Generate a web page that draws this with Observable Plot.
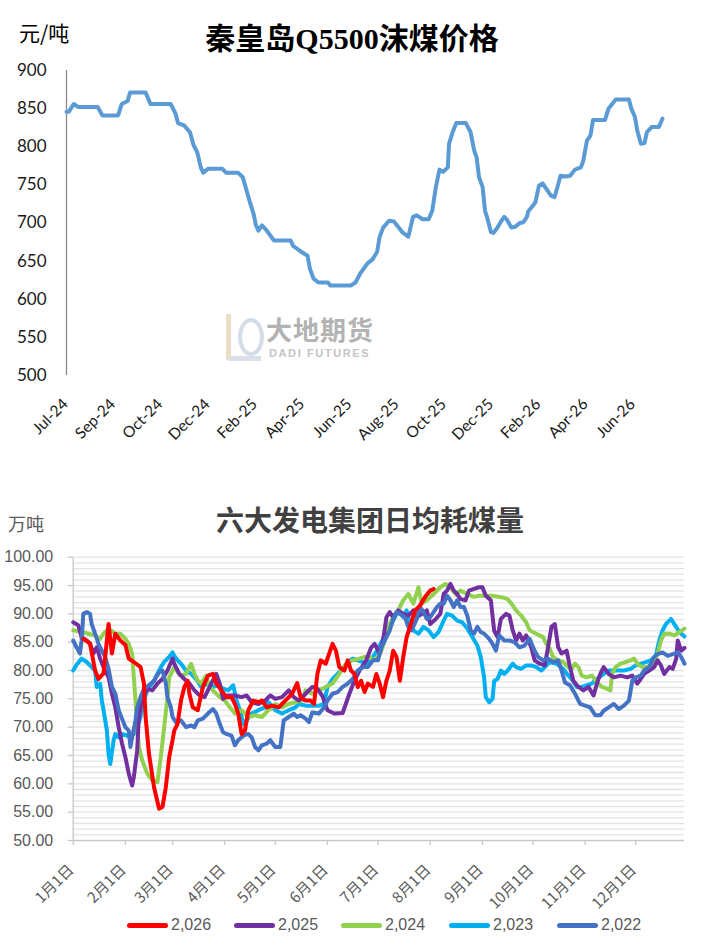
<!DOCTYPE html>
<html><head><meta charset="utf-8">
<script src="https://cdn.jsdelivr.net/npm/d3@7"></script>
<script src="https://cdn.jsdelivr.net/npm/@observablehq/plot@0.6"></script>
<style>
body{margin:0;background:#fff;}
#wrap{position:relative;width:709px;height:945px;overflow:hidden;font-family:"Noto Sans CJK SC",sans-serif;background:#fff;}
.abs{position:absolute;white-space:nowrap;line-height:1;}
#wrap svg{position:absolute;left:0;}
</style></head><body><div id="wrap"></div>
<script>
// ---------- Top chart data: 秦皇岛Q5500沫煤价格 ----------
const priceIdx = [0,2,6,10,26,30,43,46,51,53,66,70,87,91,93,98,103,106,109,112,114,118,130,133,143,147,149,153,156,158,160,163,167,173,187,189,195,201,203,206,210,218,220,237,241,245,251,255,259,261,264,269,273,277,280,285,289,292,297,302,305,308,311,314,318,319,322,325,333,337,340,342,344,347,349,351,354,356,359,362,365,367,371,374,378,381,384,385,391,394,397,400,404,407,409,412,416,420,424,429,431,434,437,439,449,452,458,469,471,474,476,479,482,484,488,494,497];
const priceVal = [846,846,856,852,852,841,841,856,860,871,871,856,856,843,831,828,819,802,793,773,766,771,771,766,766,760,749,727,712,697,690,697,690,677,677,670,663,657,640,627,622,622,618,618,622,634,647,652,662,681,694,703,702,694,688,682,708,710,705,705,716,747,770,767,773,804,819,831,831,819,795,786,760,747,716,706,688,687,693,701,708,705,694,695,700,701,708,715,727,749,752,745,736,734,745,762,761,762,770,773,782,808,815,835,835,850,862,862,850,839,821,804,805,819,826,826,837];
const topYTicks = [500,550,600,650,700,750,800,850,900];
const topXLabels = ["Jul-24","Sep-24","Oct-24","Dec-24","Feb-25","Apr-25","Jun-25","Aug-25","Oct-25","Dec-25","Feb-26","Apr-26","Jun-26"];

// ---------- Bottom chart data: 六大发电集团日均耗煤量 (day of year) ----------
const years = ["2,026","2,025","2,024","2,023","2,022"];
const colors = ["#FF0000","#7030A0","#92D050","#00B0F0","#4472C4"];
const days2026 = [6,10,13,15,18,21,23,25,28,31,33,36,40,42,43,45,48,51,53,55,57,59,60,62,64,66,68,69,71,74,77,80,83,85,88,91,94,96,98,100,102,104,107,110,112,115,118,122,126,130,133,135,138,141,143,145,147,150,152,154,156,158,161,163,165,167,169,171,173,175,178,180,182,184,186,188,190,192,194,196,198,200,203,206,209,212,214];
const vals2026 = [85.6,84.8,80,78.5,79.5,88.2,83,86.5,85.3,84.5,82.1,81.5,80.6,77.7,71.8,65.3,59.4,55.6,55.9,59.4,64.7,67.7,69.4,70.6,74.7,77.1,78.2,75.9,73.5,73,77.1,79.1,79.4,77.7,76.5,75.3,75.3,74.1,72.4,68.8,69.4,73,74.7,74.4,74.7,73.5,73.8,73.5,74.7,75.9,77.8,75.3,74.7,74.7,74.1,79.4,81.8,81.2,83,84.7,83.5,80.6,80,81.8,80,79.4,77.1,78.2,76.2,77.7,77.1,79.4,77.7,75.3,78.2,80,83.5,82.4,78.2,82.4,85.9,87.7,90.6,91.5,93,94.1,94.4];
const days2025 = [0,3,5,8,10,12,14,16,18,21,23,25,27,29,31,33,35,36,38,39,41,44,47,50,53,56,59,60,63,66,69,72,75,78,82,85,87,89,92,96,100,103,106,110,114,117,120,124,128,131,134,138,142,145,148,151,155,160,164,167,170,174,177,179,182,184,186,188,190,193,196,199,202,204,207,210,212,215,218,220,222,224,226,228,230,233,235,238,241,243,245,248,250,252,254,257,259,261,263,265,267,269,272,274,277,280,282,284,286,288,290,293,295,297,300,303,306,309,311,313,315,318,321,325,329,332,335,337,339,342,345,347,349,351,354,356,358,359,361,363];
const vals2025 = [88.5,88,85.9,85.3,84.7,83,84.1,82.1,80.6,78.8,75.9,73.5,70,67.1,64.7,61.8,59.7,61.2,65.9,71.8,75.3,76.8,76.5,77.7,78.5,80,82.1,81.2,79.4,78.5,77.7,76.5,75.6,75.3,77.7,79.4,77.7,75,75.6,75.6,75.3,75.6,74.4,74.1,74.7,75.6,75,75.3,76.5,75.3,74.7,75.9,77.1,76.8,75.5,73,72.4,72.5,75.9,78.2,80,81.8,84.1,84.7,83,85.3,89.4,90.3,89.4,90.6,90,89.7,90.6,89.4,90,90.6,88.2,89,90,93.5,94.1,95.3,94.1,93.5,92.6,92.4,94.1,94.4,94.7,94.7,93.2,92.4,87,85.9,89.1,90,89.7,87.1,85.3,86.5,85.3,86.2,84.1,81.8,81.2,80.9,84.1,87.7,88.2,84.1,83,83.5,80.6,78.2,77.1,76.5,77.1,75.6,77.7,79.4,80.6,79.4,78.8,79.1,78.8,79.1,77.7,78.5,79.4,80,80.6,81.8,80.9,79.4,80.6,80.3,82,85.3,83.5,84];
const days2024 = [0,5,9,13,16,18,21,25,28,31,33,35,36,37,38,39,41,44,47,50,52,54,56,57,59,60,62,64,67,70,72,74,76,79,81,84,87,90,93,96,100,104,108,112,116,120,124,128,132,136,138,142,146,150,154,158,162,166,170,173,176,178,181,183,185,187,190,193,196,199,202,205,207,210,214,218,221,224,227,230,234,238,241,245,249,255,258,261,263,266,269,271,273,275,279,281,283,285,288,291,294,296,298,300,302,305,308,311,314,317,319,320,322,325,328,331,333,335,338,341,344,347,349,351,354,357,360,363];
const vals2024 = [87.1,86.8,86.5,86.2,85.6,86.5,87.4,86.5,86.5,85.6,84.7,83,78.8,74.7,70,66.5,64.1,61.8,60.6,60.3,64.7,70,75.3,78.8,80,80.6,79.7,79.1,79.4,81.2,79.4,78.2,77.7,79.1,77.1,76.2,75.3,74.7,73.5,72.4,73,71.8,72.1,71.8,73,74.1,73.5,74.1,74.4,74.7,76.5,75.9,76.5,77.1,77.7,79.4,81.2,81.8,82.1,82.4,82.4,81.8,82.4,83.5,85.3,87.7,89.4,90.6,92.4,93.5,91.8,94.7,91.8,92.4,93.5,94.7,95.3,94.7,93.5,94.1,93.5,93,93.2,93.2,93.2,92.9,92.6,91.5,90.6,89.7,88.5,87.1,86.8,86.5,85.9,84.7,83.8,82.4,81.8,81.5,80.6,80.3,81.2,80.6,79.1,78.8,79.1,77.9,77.1,76.8,76.5,79.4,80.6,81.2,81.5,81.8,82.1,81.2,80.6,80.6,81.2,82.9,85.3,86.5,86.5,86.2,86.8,87.4];
const days2023 = [0,2,5,8,11,13,14,16,17,18,20,21,22,24,25,27,29,32,34,36,38,40,42,44,46,48,50,52,54,57,59,60,62,64,67,70,73,76,80,83,86,89,92,95,97,99,101,103,106,110,114,116,120,124,128,132,134,138,142,146,149,151,154,157,160,163,166,169,172,175,178,181,183,185,188,190,192,194,196,198,200,202,205,208,211,214,217,220,222,225,228,231,234,237,240,242,244,245,247,249,250,252,254,256,258,261,263,266,269,272,275,278,280,283,287,291,294,296,299,302,305,308,311,315,318,322,327,331,334,337,340,343,346,348,350,352,355,358,360,363];
const vals2023 = [80,81,82.1,81.5,80.6,80,77.1,77.7,74.7,73,69.4,65.3,63.5,67.7,68.8,68.2,68.8,68.5,68.2,68.8,70,71.8,74.7,76.5,77.4,78.2,79.4,80.6,81.5,82.4,83.2,82.6,81.8,81.2,80,79.4,78.5,77.1,77.7,77.1,77.4,76.8,76.5,77.4,74.7,73,70.6,71.2,72.4,73,73.5,74.4,73,72.4,73,73.5,74.1,73.8,73.8,73.8,74.1,77.1,78.5,79.4,80.3,81.5,82.1,81.8,81.5,81.2,82.4,83.8,85,86.2,87.7,88.8,90,90.3,89.4,90.6,88.2,87.1,86.5,87.7,87.1,85.9,86.8,88.8,90,89.7,88.8,88.5,87.4,85.9,84.4,82.4,78.8,75.3,74.4,75,78.2,78.5,80,79.4,80,81.2,80.6,80.3,80.9,80.9,80.6,80,80.6,81.5,81.2,80.3,79.1,78.5,77.1,77.1,77.4,77.7,78.5,79.4,80,80,80,80.3,80.9,81.2,81.5,81.8,82.6,85.3,87.1,88.2,89.1,87.7,86.8,86];
const days2022 = [0,2,4,5,6,8,10,11,13,15,17,19,21,23,25,27,29,31,33,34,35,37,38,40,42,45,48,51,53,55,56,58,59,61,64,67,70,72,74,77,80,83,85,87,89,91,94,96,98,101,104,106,108,110,112,115,117,120,123,125,128,131,133,135,138,140,142,146,149,151,154,157,160,163,166,169,172,175,178,181,183,185,188,190,192,194,197,199,201,204,206,208,210,212,214,216,218,220,222,224,226,228,230,232,234,236,238,240,242,244,247,249,251,253,256,259,262,265,268,271,274,276,279,282,285,288,290,292,295,298,301,304,307,310,313,315,318,321,324,327,330,332,334,337,339,342,345,347,350,353,356,359,361,363];
const vals2022 = [85.3,84.1,83,85.3,90,90.3,90,88.2,86.5,84.7,83.5,82.4,80.3,77.1,75.9,73,71.5,70,69.4,66.5,68.2,71.2,73.5,75.3,76.8,77.4,78.2,79.7,80,77.7,75.3,73.5,71.8,70.9,71.2,70,70.3,70,71.2,71.5,72.4,73.2,72.4,70.6,69.1,68.8,68.5,66.8,67.7,68.5,68.8,68.2,66.5,65.9,66.8,67.1,67.7,66.5,66.5,71.2,71.8,72.4,71.8,72.1,71.5,70.9,72.6,72.4,73.5,74.7,75.9,76.2,77.1,77.7,78.5,80,80.6,80.6,81.8,81.8,84.1,85.3,87.1,89.1,90.3,90,89.4,87.7,87.1,89.1,91.2,90.3,89.1,89.4,90.3,91.2,91.8,91.8,93.2,92.4,91.2,92.4,91.2,91.2,89.7,87.1,86.5,87.7,86.8,86.5,85.6,84.7,83.5,86.2,85.3,85.3,85,84.1,84.4,85.6,83.5,82.4,81.8,82.1,81.5,81.8,80,77.9,77.4,75.9,74.1,73.8,73.5,72.1,72.1,72.9,73.5,74.1,73.2,73.8,74.7,78.2,78.8,79.1,80,80.6,82.4,82.9,83.2,82.6,82.9,83.2,82.4,81.2];
const monthStarts = [0,31,59,90,120,151,181,212,243,273,304,334];
const monthLabels = ["1月1日","2月1日","3月1日","4月1日","5月1日","6月1日","7月1日","8月1日","9月1日","10月1日","11月1日","12月1日"];
const botYTicks = [50,55,60,65,70,75,80,85,90,95,100];

// ---------- build ----------
const wrap = document.getElementById("wrap");
function addText(txt, css){ const d=document.createElement("div"); d.className="abs"; d.textContent=txt; Object.assign(d.style, css); wrap.appendChild(d); return d; }

const labelStep = 39.4;
const priceData = priceIdx.map((x,i)=>({x, v: priceVal[i]}));
const topChart = Plot.plot({
  width: 709, height: 460,
  marginLeft: 66, marginRight: 47, marginTop: 70, marginBottom: 85,
  x: {domain: [0, 497], axis: null},
  y: {domain: [500, 900], axis: null},
  style: {background: "transparent", fontFamily: "Lato, 'Liberation Sans', sans-serif", overflow: "visible"},
  marks: [
    Plot.ruleX([0], {y1: 500, y2: 900, stroke: "#8a8a8a", strokeWidth: 1.3}),
    Plot.text(topYTicks, {x: 0, y: d=>d, text: d=>String(d), textAnchor: "end", dx: -20, fontSize: 17, fill: "#1a1a1a"}),
    Plot.line(priceData, {x: "x", y: "v", stroke: "#5B9BD5", strokeWidth: 4, strokeLinejoin: "round", strokeLinecap: "round"}),
    Plot.text(topXLabels, {x: (d,i)=>i*labelStep, y: 500, text: d=>d, rotate: -45, textAnchor: "end", dx: -1, dy: 26, fontSize: 15.5, fill: "#1a1a1a"})
  ]
});
topChart.style.top = "0px";
wrap.appendChild(topChart);

const series = [
  {y: years[0], days: days2026, vals: vals2026, c: colors[0]},
  {y: years[1], days: days2025, vals: vals2025, c: colors[1]},
  {y: years[2], days: days2024, vals: vals2024, c: colors[2]},
  {y: years[3], days: days2023, vals: vals2023, c: colors[3]},
  {y: years[4], days: days2022, vals: vals2022, c: colors[4]}
];
const drawOrder = [3,2,1,4,0];
const lineMarks = drawOrder.map(k => {
  const s = series[k];
  return Plot.line(s.days.map((d,i)=>({d, v: s.vals[i]})), {x: "d", y: "v", stroke: s.c, strokeWidth: 4, strokeLinejoin: "round", strokeLinecap: "round"});
});

const botChart = Plot.plot({
  width: 709, height: 485,
  marginLeft: 72.7, marginRight: 25, marginTop: 96.7, marginBottom: 105,
  x: {domain: [0, 363], axis: null},
  y: {domain: [50, 100], axis: null},
  style: {background: "transparent", fontFamily: "'Liberation Sans', sans-serif", overflow: "visible"},
  marks: [
    Plot.ruleY(d3.range(51, 101), {stroke: "#e4e4e4", strokeWidth: 1.3}),
    Plot.ruleY([50], {stroke: "#c8c8c8", strokeWidth: 1.3}),
    Plot.ruleX([0], {y1: 50, y2: 100, stroke: "#c8c8c8", strokeWidth: 1.3}),
    Plot.ruleY(botYTicks, {x1: -3, x2: 0, stroke: "#c8c8c8", strokeWidth: 1.3}),
    Plot.ruleX(monthStarts, {y1: 50, y2: 49.1, stroke: "#c8c8c8", strokeWidth: 1.3}),
    Plot.text(botYTicks, {x: 0, y: d=>d, text: d=>d.toFixed(2), textAnchor: "end", dx: -20, fontSize: 16, fill: "#595959"}),
    Plot.text(monthLabels, {x: (d,i)=>monthStarts[i], y: 50, text: d=>d, rotate: -45, textAnchor: "end", dx: -2, dy: 27, fontSize: 15, fill: "#595959", fontFamily: "'Noto Sans CJK SC', sans-serif"}),
    ...lineMarks
  ]
});
botChart.style.top = "460px";
wrap.appendChild(botChart);

// ---------- titles & labels ----------
addText("秦皇岛Q5500沫煤价格", {left: "352px", top: "24px", transform: "translateX(-50%)", fontSize: "30px", fontWeight: "700", color: "#000", fontFamily: "'Liberation Serif', 'Noto Sans CJK SC', serif"});
addText("元/吨", {left: "19px", top: "22px", fontSize: "21px", color: "#000"});
addText("六大发电集团日均耗煤量", {left: "370px", top: "505px", transform: "translateX(-50%)", fontSize: "28px", fontWeight: "700", color: "#404040"});
addText("万吨", {left: "8px", top: "514px", fontSize: "18px", color: "#595959"});

// watermark
const logo = document.createElement("div");
logo.className = "abs";
Object.assign(logo.style, {left: "226px", top: "314px", width: "30px", height: "42px", borderLeft: "5px solid #e8dcc0", borderBottom: "5px solid #d6dde8", borderRadius: "0 0 0 4px", opacity: "0.9"});
wrap.appendChild(logo);
const logo2 = document.createElement("div");
logo2.className = "abs";
Object.assign(logo2.style, {left: "238px", top: "318px", width: "18px", height: "30px", border: "4px solid #cfd8e6", borderRadius: "50% 50% 50% 50%", opacity: "0.9"});
wrap.appendChild(logo2);
addText("大地期货", {left: "266px", top: "316px", fontSize: "26px", fontWeight: "700", color: "#b3b3b3", letterSpacing: "1px"});
addText("DADI FUTURES", {left: "269px", top: "348px", fontSize: "11px", fontWeight: "700", color: "#c4c4c4", letterSpacing: "1.6px", fontFamily: "'Liberation Sans', sans-serif"});

// legend
const legX = [127, 234, 341, 449, 557];
years.forEach((y,i) => {
  const sw = document.createElement("div");
  sw.className = "abs";
  Object.assign(sw.style, {left: legX[i]+"px", top: "923px", width: "41px", height: "5px", background: colors[i], borderRadius: "3px"});
  wrap.appendChild(sw);
  addText(y, {left: (legX[i]+44)+"px", top: "917px", fontSize: "16px", color: "#595959", fontFamily: "'Liberation Sans', sans-serif"});
});
</script></body></html>
